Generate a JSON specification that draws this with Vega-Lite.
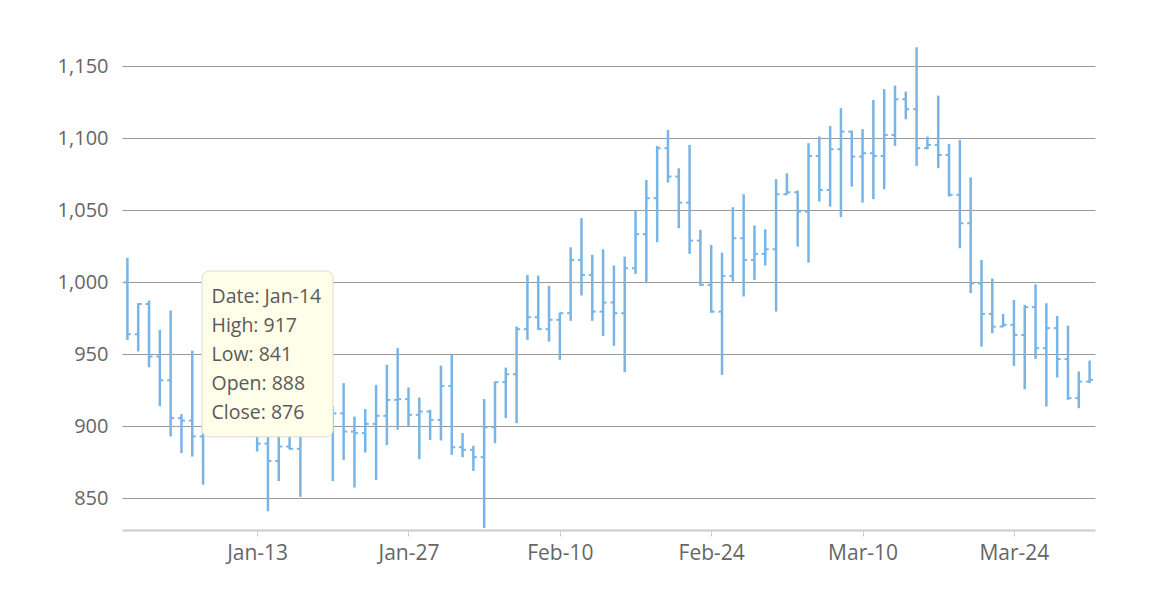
{
  "$schema": "https://vega.github.io/schema/vega-lite/v6.json",
  "width": 973,
  "height": 483,
  "autosize": {"type": "none"},
  "padding": {"left": 122, "top": 47, "right": 75, "bottom": 70},
  "background": "white",
  "config": {"view": {"stroke": null}, "font": "Open Sans"},
  "data": {"values": [
    {"date": "2019-01-01", "open": 1000, "high": 1017, "low": 960, "close": 964},
    {"date": "2019-01-02", "open": 964, "high": 985.5, "low": 952, "close": 985},
    {"date": "2019-01-03", "open": 985, "high": 987.4, "low": 941, "close": 948.5},
    {"date": "2019-01-04", "open": 948.5, "high": 967, "low": 914, "close": 932},
    {"date": "2019-01-05", "open": 932, "high": 980.4, "low": 893, "close": 905.7},
    {"date": "2019-01-06", "open": 905.7, "high": 908.5, "low": 881.4, "close": 904},
    {"date": "2019-01-07", "open": 904, "high": 952.6, "low": 879, "close": 893},
    {"date": "2019-01-08", "open": 893, "high": 902, "low": 859.4, "close": 898},
    {"date": "2019-01-09", "open": 898, "high": 925, "low": 895, "close": 915},
    {"date": "2019-01-10", "open": 915, "high": 930, "low": 900, "close": 905},
    {"date": "2019-01-11", "open": 905, "high": 920, "low": 896, "close": 910},
    {"date": "2019-01-12", "open": 910, "high": 915, "low": 895, "close": 900},
    {"date": "2019-01-13", "open": 900, "high": 908, "low": 882.5, "close": 888},
    {"date": "2019-01-14", "open": 888, "high": 917, "low": 841, "close": 876},
    {"date": "2019-01-15", "open": 876, "high": 900, "low": 862, "close": 886},
    {"date": "2019-01-16", "open": 886, "high": 897, "low": 884, "close": 884.4},
    {"date": "2019-01-17", "open": 884.4, "high": 912, "low": 851, "close": 905},
    {"date": "2019-01-18", "open": 905, "high": 922, "low": 896, "close": 915},
    {"date": "2019-01-19", "open": 915, "high": 925, "low": 900, "close": 908},
    {"date": "2019-01-20", "open": 908, "high": 914, "low": 862, "close": 909},
    {"date": "2019-01-21", "open": 909, "high": 930, "low": 876.7, "close": 896.4},
    {"date": "2019-01-22", "open": 896.4, "high": 906.8, "low": 857.5, "close": 895.3},
    {"date": "2019-01-23", "open": 895.3, "high": 912, "low": 881.8, "close": 901.7},
    {"date": "2019-01-24", "open": 901.7, "high": 928.8, "low": 862.8, "close": 907.3},
    {"date": "2019-01-25", "open": 907.3, "high": 942.7, "low": 887, "close": 918.4},
    {"date": "2019-01-26", "open": 918.4, "high": 954.3, "low": 897.6, "close": 918.9},
    {"date": "2019-01-27", "open": 918.9, "high": 927, "low": 900.3, "close": 908},
    {"date": "2019-01-28", "open": 908, "high": 920, "low": 877.2, "close": 910.3},
    {"date": "2019-01-29", "open": 910.3, "high": 911.5, "low": 890.6, "close": 904.5},
    {"date": "2019-01-30", "open": 904.5, "high": 942.2, "low": 890.2, "close": 928.1},
    {"date": "2019-01-31", "open": 928.1, "high": 949.7, "low": 880.2, "close": 885.5},
    {"date": "2019-02-01", "open": 885.5, "high": 895.3, "low": 878.6, "close": 883.7},
    {"date": "2019-02-02", "open": 883.7, "high": 886.5, "low": 869.1, "close": 878.6},
    {"date": "2019-02-03", "open": 878.6, "high": 918.9, "low": 829.3, "close": 899.4},
    {"date": "2019-02-04", "open": 899.4, "high": 931.1, "low": 888.3, "close": 930.7},
    {"date": "2019-02-05", "open": 930.7, "high": 940.8, "low": 905.7, "close": 936.2},
    {"date": "2019-02-06", "open": 936.2, "high": 969.3, "low": 902.2, "close": 967.5},
    {"date": "2019-02-07", "open": 967.5, "high": 1005.2, "low": 960.1, "close": 975.8},
    {"date": "2019-02-08", "open": 975.8, "high": 1004.7, "low": 967.2, "close": 967.5},
    {"date": "2019-02-09", "open": 967.5, "high": 997.6, "low": 958.9, "close": 974},
    {"date": "2019-02-10", "open": 974, "high": 979, "low": 946.2, "close": 978.6},
    {"date": "2019-02-11", "open": 978.6, "high": 1024.4, "low": 973.3, "close": 1015.6},
    {"date": "2019-02-12", "open": 1015.6, "high": 1044.6, "low": 990.9, "close": 1005.2},
    {"date": "2019-02-13", "open": 1005.2, "high": 1019.1, "low": 973.3, "close": 979.7},
    {"date": "2019-02-14", "open": 979.7, "high": 1023, "low": 962.8, "close": 986},
    {"date": "2019-02-15", "open": 986, "high": 1011.7, "low": 955.9, "close": 978.6},
    {"date": "2019-02-16", "open": 978.6, "high": 1017.9, "low": 937.6, "close": 1009.8},
    {"date": "2019-02-17", "open": 1009.8, "high": 1050.3, "low": 1005.9, "close": 1033.5},
    {"date": "2019-02-18", "open": 1033.5, "high": 1071.2, "low": 999.4, "close": 1058.5},
    {"date": "2019-02-19", "open": 1058.5, "high": 1094.8, "low": 1027.9, "close": 1093.2},
    {"date": "2019-02-20", "open": 1093.2, "high": 1105.9, "low": 1069.3, "close": 1073.5},
    {"date": "2019-02-21", "open": 1073.5, "high": 1079.3, "low": 1037.6, "close": 1055.4},
    {"date": "2019-02-22", "open": 1055.4, "high": 1095.5, "low": 1019.8, "close": 1029},
    {"date": "2019-02-23", "open": 1029, "high": 1036.5, "low": 997.6, "close": 998.3},
    {"date": "2019-02-24", "open": 998.3, "high": 1026, "low": 979, "close": 979.7},
    {"date": "2019-02-25", "open": 979.7, "high": 1020.7, "low": 935.8, "close": 1004.5},
    {"date": "2019-02-26", "open": 1004.5, "high": 1052.2, "low": 1000.6, "close": 1030.7},
    {"date": "2019-02-27", "open": 1030.7, "high": 1061.2, "low": 990.2, "close": 1015.6},
    {"date": "2019-02-28", "open": 1015.6, "high": 1039.5, "low": 1001.7, "close": 1019.8},
    {"date": "2019-03-01", "open": 1019.8, "high": 1036.9, "low": 1011.7, "close": 1023},
    {"date": "2019-03-02", "open": 1023, "high": 1071.7, "low": 979.7, "close": 1061.2},
    {"date": "2019-03-03", "open": 1061.2, "high": 1075.8, "low": 1060.8, "close": 1062.6},
    {"date": "2019-03-04", "open": 1062.6, "high": 1063.8, "low": 1024.9, "close": 1049.2},
    {"date": "2019-03-05", "open": 1049.2, "high": 1096.7, "low": 1013.8, "close": 1087.8},
    {"date": "2019-03-06", "open": 1087.8, "high": 1101.3, "low": 1056.1, "close": 1064.2},
    {"date": "2019-03-07", "open": 1064.2, "high": 1108.7, "low": 1052.6, "close": 1092.5},
    {"date": "2019-03-08", "open": 1092.5, "high": 1121, "low": 1045.3, "close": 1104.7},
    {"date": "2019-03-09", "open": 1104.7, "high": 1105.4, "low": 1066.5, "close": 1087.4},
    {"date": "2019-03-10", "open": 1087.4, "high": 1106.4, "low": 1055.4, "close": 1089.7},
    {"date": "2019-03-11", "open": 1089.7, "high": 1126.7, "low": 1057.8, "close": 1087.8},
    {"date": "2019-03-12", "open": 1087.8, "high": 1134.2, "low": 1064.7, "close": 1102.4},
    {"date": "2019-03-13", "open": 1102.4, "high": 1136.7, "low": 1094.8, "close": 1127.2},
    {"date": "2019-03-14", "open": 1127.2, "high": 1132.5, "low": 1113.3, "close": 1120.3},
    {"date": "2019-03-15", "open": 1120.3, "high": 1163.3, "low": 1080.9, "close": 1093.2},
    {"date": "2019-03-16", "open": 1093.2, "high": 1101.3, "low": 1092.5, "close": 1095.5},
    {"date": "2019-03-17", "open": 1095.5, "high": 1129.7, "low": 1079.3, "close": 1088.5},
    {"date": "2019-03-18", "open": 1088.5, "high": 1096.2, "low": 1059.6, "close": 1060.8},
    {"date": "2019-03-19", "open": 1060.8, "high": 1099, "low": 1023.7, "close": 1041.1},
    {"date": "2019-03-20", "open": 1041.1, "high": 1073, "low": 992.5, "close": 999.4},
    {"date": "2019-03-21", "open": 999.4, "high": 1015.6, "low": 955.4, "close": 978.1},
    {"date": "2019-03-22", "open": 978.1, "high": 1002.7, "low": 964.7, "close": 969.3},
    {"date": "2019-03-23", "open": 969.3, "high": 978.1, "low": 968.9, "close": 970.5},
    {"date": "2019-03-24", "open": 970.5, "high": 987.8, "low": 942, "close": 963.5},
    {"date": "2019-03-25", "open": 963.5, "high": 984.4, "low": 925.8, "close": 982.8},
    {"date": "2019-03-26", "open": 982.8, "high": 998.7, "low": 946.9, "close": 954.3},
    {"date": "2019-03-27", "open": 954.3, "high": 985.5, "low": 913.8, "close": 968.2},
    {"date": "2019-03-28", "open": 968.2, "high": 976.7, "low": 933.9, "close": 946.7},
    {"date": "2019-03-29", "open": 946.7, "high": 970, "low": 918.4, "close": 919.6},
    {"date": "2019-03-30", "open": 919.6, "high": 938.1, "low": 912.6, "close": 931.1},
    {"date": "2019-03-31", "open": 931.1, "high": 945.7, "low": 930, "close": 932.3}
  ]},
  "layer": [
    {
      "mark": {"type": "rule", "color": "#78b5e6", "strokeWidth": 2.5},
      "encoding": {
        "x": {
          "field": "date", "type": "temporal", "title": null,
          "scale": {"type": "utc", "domain": [
            {"year": 2018, "month": 12, "date": 31, "hours": 12, "utc": true},
            {"year": 2019, "month": 3, "date": 31, "hours": 12, "utc": true}
          ]},
          "axis": {
            "values": [
              {"year": 2019, "month": 1, "date": 13, "utc": true},
              {"year": 2019, "month": 1, "date": 27, "utc": true},
              {"year": 2019, "month": 2, "date": 10, "utc": true},
              {"year": 2019, "month": 2, "date": 24, "utc": true},
              {"year": 2019, "month": 3, "date": 10, "utc": true},
              {"year": 2019, "month": 3, "date": 24, "utc": true}
            ],
            "format": "%b-%d",
            "grid": false,
            "domainColor": "#cccccc",
            "domainWidth": 2,
            "tickColor": "#cccccc",
            "tickSize": 6,
            "tickWidth": 1,
            "labelFont": "Open Sans",
            "labelFontSize": 21,
            "labelColor": "#666666",
            "labelPadding": 6,
            "labelFlush": false
          }
        },
        "y": {
          "field": "low", "type": "quantitative", "title": null,
          "scale": {"domain": [828, 1163.5], "nice": false, "zero": false},
          "axis": {
            "values": [850, 900, 950, 1000, 1050, 1100, 1150],
            "format": ",.0f",
            "domain": false,
            "ticks": false,
            "tickSize": 0,
            "grid": true,
            "gridColor": "#999999",
            "gridWidth": 1,
            "labelFont": "Open Sans",
            "labelFontSize": 20,
            "labelColor": "#666666",
            "labelPadding": 14
          }
        },
        "y2": {"field": "high"}
      }
    },
    {
      "mark": {"type": "tick", "orient": "horizontal", "color": "#78b5e6", "size": 3.5, "thickness": 2, "xOffset": -1.75, "opacity": 1},
      "encoding": {
        "x": {"field": "date", "type": "temporal", "title": null},
        "y": {"field": "open", "type": "quantitative", "title": null}
      }
    },
    {
      "mark": {"type": "tick", "orient": "horizontal", "color": "#78b5e6", "size": 3.5, "thickness": 2, "xOffset": 1.75, "opacity": 1},
      "encoding": {
        "x": {"field": "date", "type": "temporal", "title": null},
        "y": {"field": "close", "type": "quantitative", "title": null}
      }
    },
    {
      "data": {"values": [{}]},
      "mark": {"type": "rect", "fill": "#000000", "opacity": 0.08, "cornerRadius": 8, "xOffset": 2, "yOffset": 4},
      "encoding": {
        "x": {"datum": {"year": 2019, "month": 1, "date": 7, "hours": 21, "minutes": 36, "utc": true}, "type": "temporal"},
        "x2": {"datum": {"year": 2019, "month": 1, "date": 20, "hours": 0, "minutes": 30, "utc": true}},
        "y": {"datum": 1007.9, "type": "quantitative"},
        "y2": {"datum": 892.7}
      }
    },
    {
      "data": {"values": [{}]},
      "mark": {"type": "rect", "fill": "#fefee9", "stroke": "#deded0", "strokeWidth": 1, "cornerRadius": 7},
      "encoding": {
        "x": {"datum": {"year": 2019, "month": 1, "date": 7, "hours": 21, "minutes": 36, "utc": true}, "type": "temporal"},
        "x2": {"datum": {"year": 2019, "month": 1, "date": 20, "hours": 0, "minutes": 30, "utc": true}},
        "y": {"datum": 1007.9, "type": "quantitative"},
        "y2": {"datum": 892.7}
      }
    },
    {
      "transform": [
        {"filter": "utcFormat(toDate(datum.date), '%Y-%m-%d') === '2019-01-14'"},
        {"calculate": "['Date: ' + utcFormat(toDate(datum.date), '%b-%d'), 'High: ' + datum.high, 'Low: ' + datum.low, 'Open: ' + datum.open, 'Close: ' + datum.close]", "as": "label"}
      ],
      "mark": {"type": "text", "align": "left", "baseline": "middle", "font": "Open Sans", "fontSize": 19.5, "lineHeight": 29, "color": "#5a5a5a"},
      "encoding": {
        "x": {"datum": {"year": 2019, "month": 1, "date": 8, "hours": 18, "minutes": 43, "utc": true}, "type": "temporal"},
        "y": {"datum": 990.1, "type": "quantitative"},
        "text": {"field": "label"}
      }
    }
  ]
}
